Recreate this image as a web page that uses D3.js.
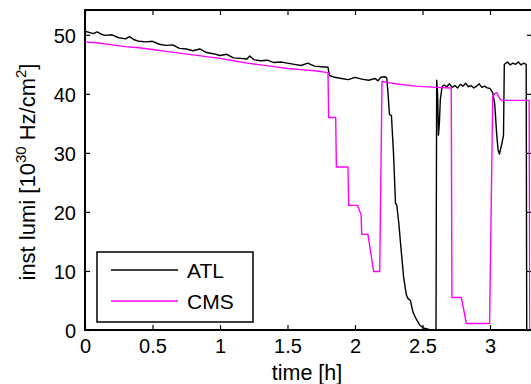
<!DOCTYPE html>
<html lang="en">
<head>
  <meta charset="UTF-8">
  <title>Instantaneous luminosity ATL / CMS</title>
  <style>
    body {
      margin: 0;
      background: #fff;
    }
    svg {
      display: block;
      font-family: 'Liberation Sans', Arial, sans-serif;
    }
    .tick text {
      font-size: 20px;
      fill: #000;
    }
    .tick line {
      stroke: #000;
      stroke-width: 1.2;
    }
  </style>
  <script src="https://d3js.org/d3.v7.min.js"></script>
</head>
<body>
  <svg></svg>
  <script>
    const width = 531, height = 384;

    // time [h] and instantaneous luminosity [1e30 Hz/cm^2]
    const atlTime = [0, 0.03, 0.06, 0.09, 0.12, 0.15, 0.2, 0.25, 0.3, 0.33, 0.36, 0.4, 0.45, 0.5, 0.55, 0.6,
      0.65, 0.7, 0.75, 0.8, 0.85, 0.9, 0.95, 1.0, 1.05, 1.1, 1.15, 1.2, 1.22, 1.25, 1.3, 1.35, 1.4, 1.45,
      1.5, 1.55, 1.6, 1.65, 1.7, 1.75, 1.8, 1.81, 1.85, 1.9, 1.95, 2.0, 2.05, 2.1, 2.15, 2.17, 2.19, 2.22,
      2.235, 2.245, 2.255, 2.27, 2.285, 2.3, 2.31, 2.325, 2.34, 2.36, 2.38, 2.39, 2.41, 2.43, 2.45, 2.48,
      2.51, 2.55, 2.6, 2.605, 2.612, 2.618, 2.625, 2.632, 2.645, 2.66, 2.68, 2.7, 2.72, 2.74, 2.76, 2.78,
      2.8, 2.82, 2.84, 2.86, 2.88, 2.9, 2.92, 2.94, 2.96, 2.98, 3.0, 3.02, 3.035, 3.05, 3.06, 3.07, 3.09,
      3.1, 3.106, 3.13, 3.15, 3.17, 3.19, 3.21, 3.23, 3.25, 3.268, 3.272];
    const atlLumi = [50.6, 50.4, 50.2, 50.5, 50.1, 49.9, 50.0, 49.5, 49.3, 49.7, 49.2, 48.9, 48.8, 48.9, 48.4, 48.2,
      48.3, 47.7, 47.6, 47.3, 47.6, 47.0, 46.8, 46.5, 46.7, 46.1, 46.0, 45.9, 46.4, 45.8, 45.6, 45.7, 45.3, 45.4,
      45.2, 45.0, 44.8, 45.2, 44.7, 44.6, 44.5, 43.1, 42.8, 42.6, 42.4, 42.8, 42.5, 42.3, 42.6, 42.2, 42.8, 42.9,
      42.7, 40.0, 36.5, 36.3, 30.0, 21.5, 21.1, 18.0, 14.0, 9.0, 6.0, 5.4, 5.0, 3.0, 2.0, 0.8,
      0.3, 0.1, 0, 42.3, 40.0, 33.0, 35.0, 39.0, 41.2, 41.5, 41.2, 41.7, 41.1, 41.4, 41.0, 41.6,
      41.3, 41.8, 41.2, 41.4, 41.0, 41.3, 41.7, 41.1, 41.3, 41.0, 40.9, 40.2, 38.3, 33.0, 30.5, 29.8, 31.8,
      33.0, 45.0, 45.4, 44.9, 45.2, 45.0, 45.4, 44.9, 45.2, 45.0, 0];

    const cmsTime = [0, 0.1, 0.2, 0.3, 0.4, 0.5, 0.6, 0.7, 0.8, 0.9, 1.0, 1.1, 1.2, 1.3, 1.4, 1.5, 1.6, 1.7,
      1.8, 1.805, 1.857, 1.862, 1.948, 1.953, 2.02, 2.045, 2.05, 2.096, 2.138, 2.183, 2.2, 2.25, 2.3, 2.45,
      2.6, 2.713, 2.718, 2.788, 2.825, 2.997, 3.02, 3.035, 3.05, 3.07, 3.085, 3.29, 3.295];
    const cmsLumi = [48.8, 48.6, 48.3, 48.0, 47.8, 47.5, 47.2, 46.9, 46.6, 46.3, 46.0, 45.6, 45.2, 44.9, 44.6, 44.3, 44.1, 43.9,
      43.6, 36.0, 36.0, 27.6, 27.6, 21.1, 21.1, 19.5, 16.2, 16.2, 9.9, 9.9, 42.1, 41.9, 41.7, 41.3,
      41.1, 41.0, 5.5, 5.5, 1.1, 1.1, 39.5, 40.0, 40.2, 39.3, 38.9, 38.9, 0];

    const seriesNames = ["ATL", "CMS"];
    const seriesColors = ["#000000", "#ff00ff"];
    const xTicks = [0, 0.5, 1, 1.5, 2, 2.5, 3];
    const yTicks = [0, 10, 20, 30, 40, 50];

    const plotLeft = 85, plotRight = 530.5, plotTop = 10, plotBottom = 330;

    const svg = d3.select("svg")
      .attr("width", width)
      .attr("height", height);

    const x = d3.scaleLinear().domain([0, 3.3]).range([plotLeft, plotRight]);
    const y = d3.scaleLinear().domain([0, 54.2]).range([plotBottom, plotTop]);

    svg.append("clipPath").attr("id", "plot-clip")
      .append("rect")
      .attr("x", plotLeft).attr("y", plotTop)
      .attr("width", plotRight - plotLeft).attr("height", plotBottom - plotTop);

    // inward ticks on all four sides
    const axisB = svg.append("g").attr("transform", `translate(0,${plotBottom})`)
      .call(d3.axisBottom(x).tickValues(xTicks).tickSizeInner(-5).tickSizeOuter(0).tickPadding(6)
        .tickFormat(d3.format("")));
    const axisT = svg.append("g").attr("transform", `translate(0,${plotTop})`)
      .call(d3.axisTop(x).tickValues(xTicks).tickSizeInner(-5).tickSizeOuter(0).tickFormat(""));
    const axisL = svg.append("g").attr("transform", `translate(${plotLeft},0)`)
      .call(d3.axisLeft(y).tickValues(yTicks).tickSizeInner(-5).tickSizeOuter(0).tickPadding(9));
    const axisR = svg.append("g").attr("transform", `translate(${plotRight + 1.5},0)`)
      .call(d3.axisRight(y).tickValues(yTicks).tickSizeInner(-5).tickSizeOuter(0).tickFormat(""));

    [axisB, axisT, axisL, axisR].forEach(a => a.select(".domain").remove());
    axisB.selectAll("text").attr("dy", "0.85em").attr("font-family", null).attr("font-size", null);
    axisL.selectAll("text").attr("dy", "0.36em").attr("font-family", null).attr("font-size", null);

    // data lines
    const line = d3.line().x(d => x(d[0])).y(d => y(d[1]));
    const series = [
      d3.zip(atlTime, atlLumi),
      d3.zip(cmsTime, cmsLumi)
    ];

    svg.append("g").attr("clip-path", "url(#plot-clip)")
      .selectAll("path")
      .data(series)
      .join("path")
      .attr("d", line)
      .attr("fill", "none")
      .attr("stroke", (d, i) => seriesColors[i])
      .attr("stroke-width", 1.4)
      .attr("stroke-linejoin", "round");

    // frame
    svg.append("rect")
      .attr("x", plotLeft).attr("y", plotTop)
      .attr("width", plotRight + 1.5 - plotLeft).attr("height", plotBottom - plotTop)
      .attr("fill", "none")
      .attr("stroke", "#000")
      .attr("stroke-width", 2);

    // legend
    const legend = svg.append("g");
    legend.append("rect")
      .attr("x", 97).attr("y", 252)
      .attr("width", 156).attr("height", 70)
      .attr("fill", "#fff")
      .attr("stroke", "#000")
      .attr("stroke-width", 1.5);
    seriesNames.forEach((name, i) => {
      const ly = 270 + i * 31;
      legend.append("line")
        .attr("x1", 111).attr("x2", 178)
        .attr("y1", ly).attr("y2", ly)
        .attr("stroke", seriesColors[i])
        .attr("stroke-width", 1.4);
      legend.append("text")
        .attr("x", 187).attr("y", ly + 7.5)
        .attr("font-size", 21)
        .text(name);
    });

    // axis titles
    svg.append("text")
      .attr("x", 307).attr("y", 380)
      .attr("text-anchor", "middle")
      .attr("font-size", 21.5)
      .text("time [h]");

    const yTitle = svg.append("text")
      .attr("transform", "translate(35,172) rotate(-90)")
      .attr("text-anchor", "middle")
      .attr("font-size", 22);
    yTitle.append("tspan").text("inst lumi [10");
    yTitle.append("tspan").attr("font-size", 15).attr("dy", -9).text("30");
    yTitle.append("tspan").attr("dy", 9).text(" Hz/cm");
    yTitle.append("tspan").attr("font-size", 15).attr("dy", -9).text("2");
    yTitle.append("tspan").attr("dy", 9).text("]");
  </script>
</body>
</html>
